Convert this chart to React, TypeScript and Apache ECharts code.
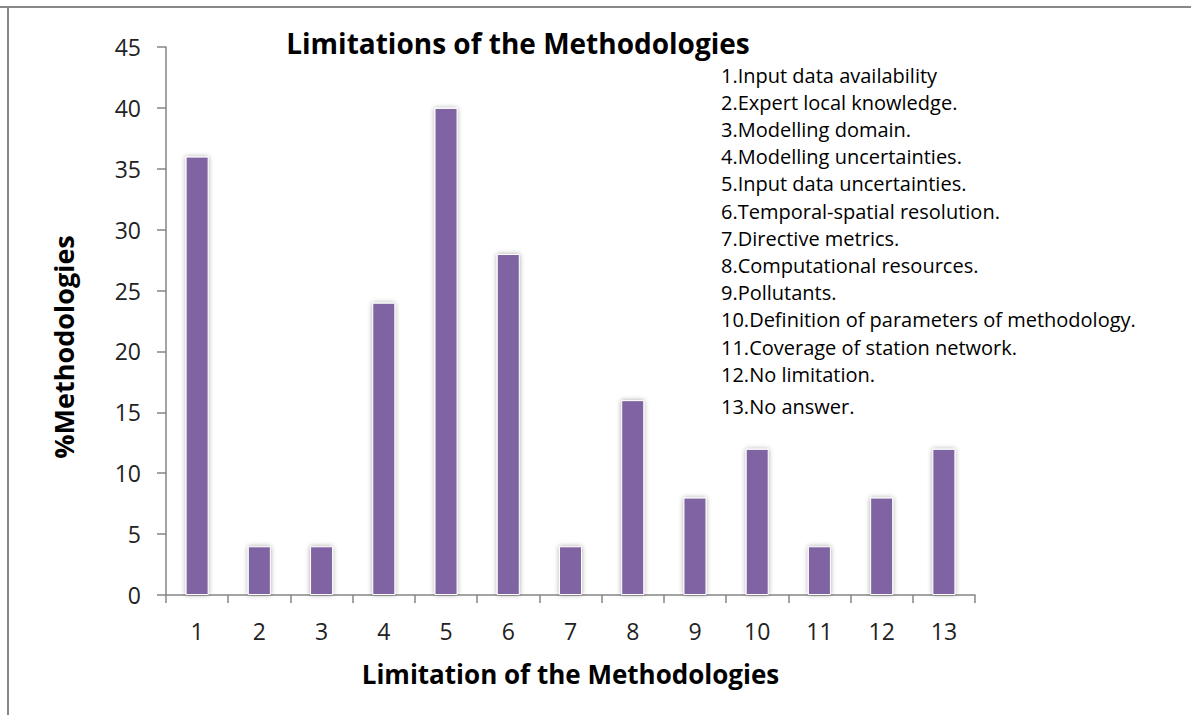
import React, { useEffect, useRef } from "react";
import * as echarts from "echarts";

const categories = ["1", "2", "3", "4", "5", "6", "7", "8", "9", "10", "11", "12", "13"];
const values = [36, 4, 4, 24, 40, 28, 4, 16, 8, 12, 4, 8, 12];
const notes = [
  "1.Input data availability",
  "2.Expert local knowledge.",
  "3.Modelling domain.",
  "4.Modelling uncertainties.",
  "5.Input data uncertainties.",
  "6.Temporal-spatial resolution.",
  "7.Directive metrics.",
  "8.Computational resources.",
  "9.Pollutants.",
  "10.Definition of parameters of methodology.",
  "11.Coverage of station network.",
  "12.No limitation.",
  "13.No answer.",
];

const FONT = "'Open Sans', 'Liberation Sans', sans-serif";

export default function App() {
  const ref = useRef<HTMLDivElement>(null);
  useEffect(() => {
    if (!ref.current) return;
    const chart = echarts.init(ref.current, null, { renderer: "svg" });
    const noteEls = notes.map((t, i) => ({
      type: "text",
      left: 721,
      top: 65 + i * 27.2 + (i === 12 ? 5 : 0),
      style: { text: t, font: `20px ${FONT}`, fill: "#000" },
    }));
    chart.setOption({
      animation: false,
      backgroundColor: "#fff",
      title: {
        text: "Limitations of the Methodologies",
        left: 513,
        top: 24,
        textAlign: "center",
        textStyle: { fontFamily: FONT, fontWeight: "bold", fontSize: 28, color: "#000" },
      },
      grid: { left: 166, right: 216, top: 47, bottom: 120 },
      xAxis: {
        type: "category",
        data: categories,
        name: "Limitation of the Methodologies",
        nameLocation: "middle",
        nameGap: 66,
        nameTextStyle: { fontFamily: FONT, fontWeight: "bold", fontSize: 26, color: "#000" },
        axisLine: { lineStyle: { color: "#868686", width: 1.5 } },
        axisTick: { show: true, length: 8, alignWithLabel: false, lineStyle: { color: "#868686", width: 1.5 } },
        axisLabel: { fontFamily: FONT, fontSize: 23, color: "#222", margin: 24 },
      },
      yAxis: {
        type: "value",
        min: 0,
        max: 45,
        interval: 5,
        axisLine: { show: true, lineStyle: { color: "#868686", width: 1.5 } },
        axisTick: { show: true, length: 9, lineStyle: { color: "#868686", width: 1.5 } },
        splitLine: { show: false },
        axisLabel: { fontFamily: FONT, fontSize: 23, color: "#222", margin: 25 },
      },
      series: [
        {
          type: "bar",
          data: values,
          barWidth: "37%",
          itemStyle: {
            color: "#8064A2",
            borderColor: "#ffffff",
            borderWidth: 1,
            shadowColor: "rgba(0,0,0,0.35)",
            shadowBlur: 5,
          },
        },
      ],
      graphic: [
        {
          type: "line",
          shape: { x1: 0, y1: 7, x2: 1191, y2: 7 },
          style: { stroke: "#888", lineWidth: 2 },
        },
        {
          type: "line",
          shape: { x1: 8, y1: 6, x2: 8, y2: 715 },
          style: { stroke: "#888", lineWidth: 2 },
        },
        {
          type: "text",
          x: 63,
          y: 347,
          rotation: Math.PI / 2,
          style: {
            text: "%Methodologies",
            font: `bold 27px ${FONT}`,
            fill: "#000",
            align: "center",
            verticalAlign: "middle",
          },
        },
        ...noteEls,
      ],
    });
    return () => chart.dispose();
  }, []);
  return (
    <div
      ref={ref}
      style={{ position: "absolute", left: 0, top: 0, width: 1191, height: 715 }}
    />
  );
}
